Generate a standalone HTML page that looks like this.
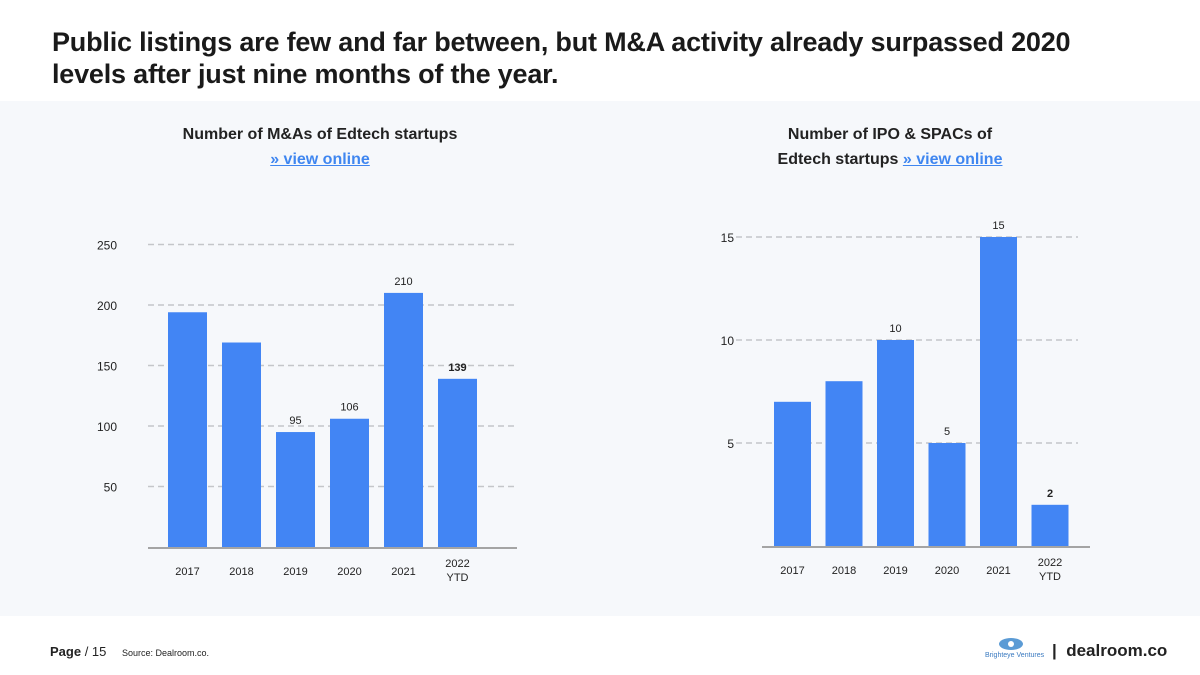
<!DOCTYPE html>
<html><head><meta charset="utf-8">
<style>
body{margin:0;width:1200px;height:675px;background:#fff;font-family:"Liberation Sans",sans-serif;position:relative;overflow:hidden}
.title{position:absolute;left:52px;top:26px;font-size:27px;font-weight:bold;color:#1a1a1a;line-height:32px;letter-spacing:-0.2px}
.panel{position:absolute;left:0;top:101px;width:1200px;height:515px;background:#f6f8fb}
.ct{position:absolute;text-align:center;font-size:16px;font-weight:bold;color:#222;line-height:25px}
.ct a{color:#3f86f0;text-decoration:underline}
svg{position:absolute;left:0;top:0}
.foot{position:absolute;top:644px;font-size:13px;color:#222}
</style></head><body>
<div class="title">Public listings are few and far between, but M&amp;A activity already surpassed 2020<br>levels after just nine months of the year.</div>
<div class="panel"></div>
<div class="ct" style="left:120px;width:400px;top:122px">Number of M&amp;As of Edtech startups<br><a>» view online</a></div>
<div class="ct" style="left:690px;width:400px;top:122px">Number of IPO &amp; SPACs of<br>Edtech startups <a>» view online</a></div>
<svg id="c" width="1200" height="675"></svg>
<div class="foot" style="left:50px"><b>Page</b> / 15 <span style="font-size:9px;margin-left:12px">Source: Dealroom.co.</span></div>
<div class="foot" style="left:985px;top:636px;font-size:7px;color:#3a7ac0"><svg width="30" height="14" style="position:relative;left:12px"><ellipse cx="14" cy="8" rx="12" ry="6" fill="#5b9bd5"/><circle cx="14" cy="8" r="3" fill="#fff"/></svg><br>Brighteye Ventures</div>
<div class="foot" style="left:1052px;top:641px;font-size:17px;font-weight:bold;color:#222">|&nbsp; dealroom.co</div>
<script>
const leftCats=["2017","2018","2019","2020","2021","2022 YTD"];
const leftVals=[194,169,95,106,210,139];
const leftLabels=[null,null,"95","106","210","139"];
const leftTicks=[50,100,150,200,250];
const rightCats=["2017","2018","2019","2020","2021","2022 YTD"];
const rightVals=[7,8,10,5,15,2];
const rightLabels=[null,null,"10","5","15","2"];
const rightTicks=[5,10,15];
const NS="http://www.w3.org/2000/svg";
const svg=document.getElementById('c');
function mk(t,a,txt){const e=document.createElementNS(NS,t);for(const k in a)e.setAttribute(k,a[k]);if(txt!=null)e.textContent=txt;svg.appendChild(e);return e;}
function chart(o){
 const y=v=>o.y0-v*o.k;
 o.ticks.forEach(t=>{
  const l=mk('line',{x1:o.gx1,x2:o.gx2,y1:y(t),y2:y(t),stroke:'#c4c6ca','stroke-width':1.5,'stroke-dasharray':'6,4'});
  
  
  const tx=mk('text',{x:o.tx,y:y(t)+5,'font-size':12,fill:'#222','text-anchor':'end'},t);
  
  
 });
 o.vals.forEach((v,i)=>{
  const x=o.x0+i*o.step;
  const r=mk('rect',{x:x,y:y(v),width:o.bw,height:o.y0-y(v),fill:'#4285f4'});
  
  
  if(o.labels[i]){const last=i===o.vals.length-1;
   const t=mk('text',{x:x+o.bw/2,y:y(v)-8,'font-size':11,'font-weight':last?'bold':'normal',fill:'#222','text-anchor':'middle'},o.labels[i]);
   
   }
  const parts=o.cats[i].split(' ');
  parts.forEach((p,j)=>{const t=mk('text',{x:x+o.bw/2,y:(parts.length>1?o.y0+20+j*14:o.y0+28),'font-size':11,fill:'#222','text-anchor':'middle'},p);
   
   });
 });
 const b=mk('line',{x1:o.bx1,x2:o.bx2,y1:o.y0+1,y2:o.y0+1,stroke:'#888','stroke-width':1.5});
 
 
}
chart({vals:leftVals,cats:leftCats,labels:leftLabels,ticks:leftTicks,y0:547,k:1.21,x0:168,step:54,bw:39,gx1:148,gx2:514,bx1:148,bx2:517,tx:117});
chart({vals:rightVals,cats:rightCats,labels:rightLabels,ticks:rightTicks,y0:546,k:20.6,x0:774,step:51.5,bw:37,gx1:736,gx2:1078,bx1:762,bx2:1090,tx:734});
</script>
</body></html>
